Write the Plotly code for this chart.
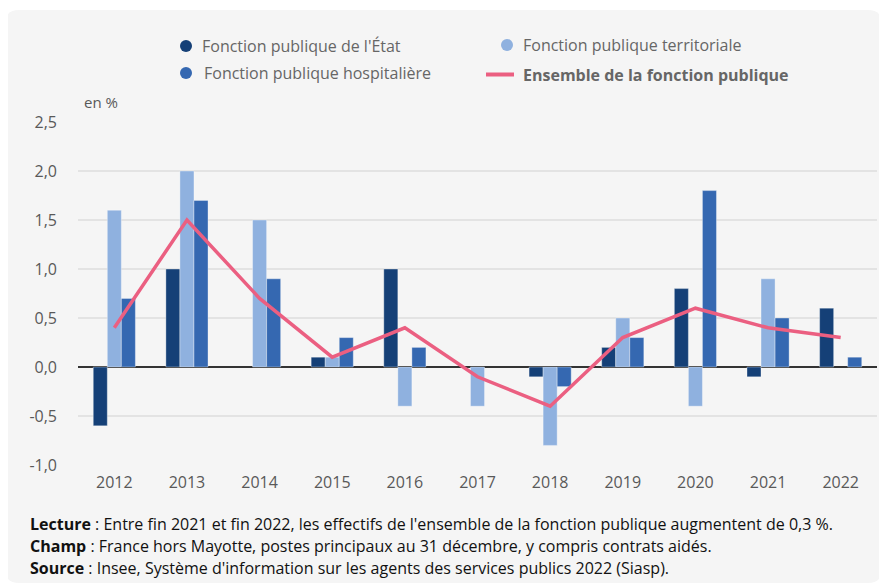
import plotly.graph_objects as go

years = ["2012", "2013", "2014", "2015", "2016", "2017", "2018", "2019", "2020", "2021", "2022"]
etat = [-0.6, 1.0, 0.0, 0.1, 1.0, 0.0, -0.1, 0.2, 0.8, -0.1, 0.6]
territoriale = [1.6, 2.0, 1.5, 0.1, -0.4, -0.4, -0.8, 0.5, -0.4, 0.9, 0.0]
hospitaliere = [0.7, 1.7, 0.9, 0.3, 0.2, 0.0, -0.2, 0.3, 1.8, 0.5, 0.1]
ensemble = [0.4, 1.5, 0.7, 0.1, 0.4, -0.1, -0.4, 0.3, 0.6, 0.4, 0.3]

y_tickvals = [-1.0, -0.5, 0.0, 0.5, 1.0, 1.5, 2.0, 2.5]
y_ticktext = ["-1,0", "-0,5", "0,0", "0,5", "1,0", "1,5", "2,0", "2,5"]

names = ["Fonction publique de l'État", "Fonction publique territoriale",
         "Fonction publique hospitalière", "Ensemble de la fonction publique"]
c_etat = "#154077"
c_terr = "#8fb1df"
c_hosp = "#3568b1"
c_line = "#eb5f81"

# page has an 8px body margin: figure is laid out in screen coordinates minus 8
OFF = 8
W, H = 887 - OFF, 588 - OFF
PLOT_X0, PLOT_X1, PLOT_Y0, PLOT_Y1 = 78, 877, 122, 465   # screen px
L = PLOT_X0 - OFF
T = PLOT_Y0 - OFF
R = W - (PLOT_X1 - OFF)
B = H - (PLOT_Y1 - OFF)
PW, PH = PLOT_X1 - PLOT_X0, PLOT_Y1 - PLOT_Y0


def px(x):
    return (x - PLOT_X0) / PW


def py(y):
    return (PLOT_Y1 - y) / PH


FONT = "Open Sans"
GREY = "#595959"

fig = go.Figure()
for vals, col, nm in [(etat, c_etat, names[0]), (territoriale, c_terr, names[1]),
                      (hospitaliere, c_hosp, names[2])]:
    fig.add_trace(go.Bar(x=years, y=vals, name=nm, marker_color=col,
                         marker_line=dict(color="rgba(255,255,255,0.35)",
                                          width=[0 if v == 0 else 1 for v in vals]),
                         showlegend=False))
fig.add_trace(go.Scatter(x=years, y=ensemble, name=names[3], mode="lines",
                         line=dict(color=c_line, width=3.5), showlegend=False))

shapes = []
# card background with rounded corners
x0, x1, y0, y1, r = 5, 882, 10, 583, 14
rx, ry = r / PW, r / PH
X0, X1, Y0, Y1 = px(x0), px(x1), py(y0), py(y1)
path = (f"M{X0+rx},{Y0} L{X1-rx},{Y0} Q{X1},{Y0} {X1},{Y0-ry} "
        f"L{X1},{Y1+ry} Q{X1},{Y1} {X1-rx},{Y1} L{X0+rx},{Y1} "
        f"Q{X0},{Y1} {X0},{Y1+ry} L{X0},{Y0-ry} Q{X0},{Y0} {X0+rx},{Y0} Z")
shapes.append(dict(type="path", path=path, xref="paper", yref="paper",
                   fillcolor="#f5f5f5", line=dict(width=0), layer="below"))

# legend
leg = [(186, 46, c_etat, 200, names[0], False, "dot"),
       (507, 45, c_terr, 521, names[1], False, "dot"),
       (186, 73, c_hosp, 202, names[2], False, "dot"),
       (500, 74.5, c_line, 521, names[3], True, "line")]
annotations = []
for cx, cy, col, tx, txt, bold, kind in leg:
    if kind == "dot":
        shapes.append(dict(type="circle", xref="paper", yref="paper",
                           x0=px(cx - 6), x1=px(cx + 6), y0=py(cy + 6), y1=py(cy - 6),
                           fillcolor=col, line=dict(width=0)))
    else:
        shapes.append(dict(type="line", xref="paper", yref="paper",
                           x0=px(cx - 14), x1=px(cx + 14), y0=py(cy), y1=py(cy),
                           line=dict(color=col, width=4)))
    annotations.append(dict(x=px(tx), y=py(cy), xref="paper", yref="paper",
                            xanchor="left", yanchor="middle", showarrow=False,
                            text=f"<b>{txt}</b>" if bold else txt,
                            font=dict(family=FONT, size=16, color="#666666")))

annotations.append(dict(x=px(82), y=py(102), xref="paper", yref="paper",
                        xanchor="left", yanchor="middle", showarrow=False,
                        text="en %", font=dict(family=FONT, size=15, color=GREY)))

notes = [
    (524, "<b>Lecture</b> : Entre fin 2021 et fin 2022, les effectifs de l'ensemble de la fonction publique augmentent de 0,3 %."),
    (546, "<b>Champ</b> : France hors Mayotte, postes principaux au 31 décembre, y compris contrats aidés."),
    (567.5, "<b>Source</b> : Insee, Système d'information sur les agents des services publics 2022 (Siasp)."),
]
for yy, txt in notes:
    annotations.append(dict(x=px(28), y=py(yy), xref="paper", yref="paper",
                            xanchor="left", yanchor="middle", showarrow=False,
                            text=txt, font=dict(family=FONT, size=16, color="#111111")))

fig.update_layout(
    width=W, height=H,
    margin=dict(l=L, r=R, t=T, b=B),
    paper_bgcolor="white",
    plot_bgcolor="rgba(0,0,0,0)",
    barmode="group", bargap=0.42, bargroupgap=0,
    shapes=shapes, annotations=annotations,
    font=dict(family=FONT, size=16, color=GREY),
    showlegend=False,
    xaxis=dict(type="category", showgrid=False, ticks="", showline=False,
               tickfont=dict(family=FONT, size=16, color=GREY), ticklabelstandoff=6),
    yaxis=dict(range=[-1.0, 2.5], tickvals=y_tickvals, ticktext=y_ticktext,
               showgrid=True, gridcolor="#e3e3e3", gridwidth=1.5,
               zeroline=True, zerolinecolor="#333333", zerolinewidth=1.5,
               ticks="", showline=False, ticklabelstandoff=20,
               tickfont=dict(family=FONT, size=16, color=GREY)),
)

fig.write_html("out.html")
